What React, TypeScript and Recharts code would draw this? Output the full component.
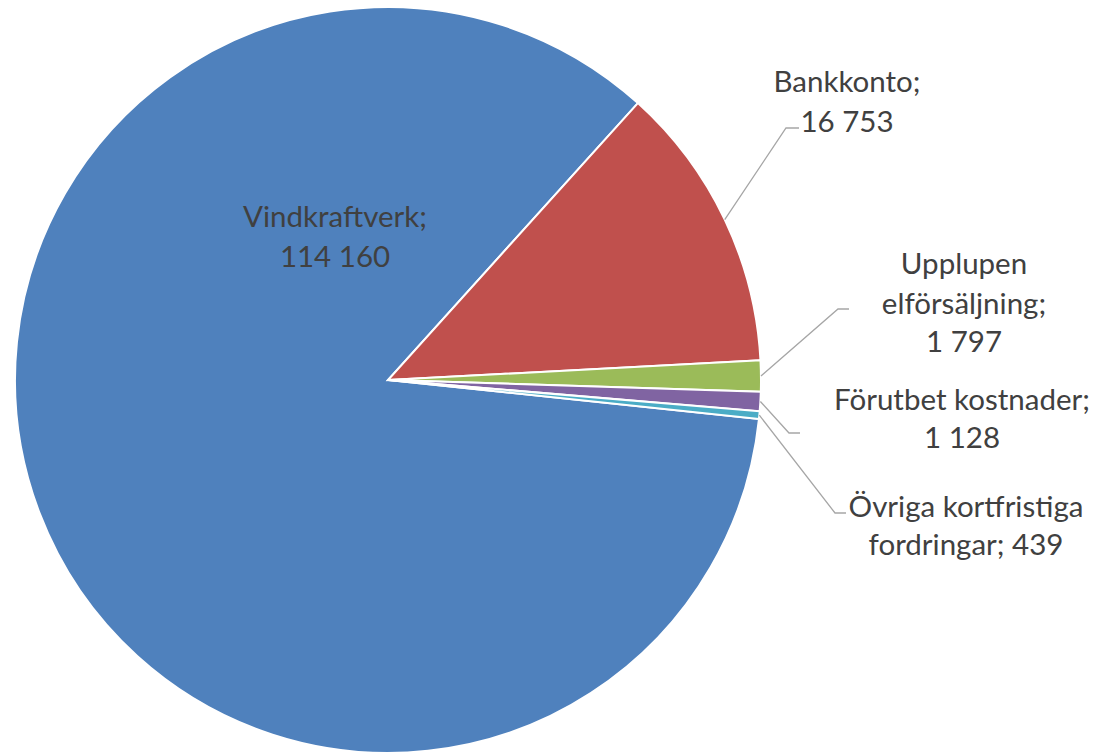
import React from 'react';
import { PieChart, Pie, Cell } from 'recharts';

const categories = ['Vindkraftverk', 'Bankkonto', 'Upplupen elförsäljning', 'Förutbet kostnader', 'Övriga kortfristiga fordringar'];
const values = [114160, 16753, 1797, 1128, 439];
const colors = ['#4F81BD', '#C0504D', '#9BBB59', '#8064A2', '#4BACC6'];

const data = categories.map((name, i) => ({ name, value: values[i] }));

const fmt = (v: number) => v.toString().replace(/\B(?=(\d{3})+(?!\d))/g, ' ');

// label layout relative to pie centre
const labelLayout = [
  { lines: (n: string, v: string) => [n + ';', v], tx: -53, ty: [-165, -125], leader: null },
  { lines: (n: string, v: string) => [n + ';', v], tx: 459, ty: [-300, -260], leader: [[398, -252], [411, -252]] },
  { lines: (n: string, v: string) => ['Upplupen', 'elförsäljning;', v], tx: 576, ty: [-118, -78, -40], leader: [[450, -71], [461, -71]] },
  { lines: (n: string, v: string) => [n + ';', v], tx: 574, ty: [18, 56], leader: [[401, 53], [412, 53]] },
  { lines: (n: string, v: string) => ['Övriga kortfristiga', 'fordringar; ' + v], tx: 578, ty: [125, 163], leader: [[447, 133], [458, 133]] },
];

const RAD = Math.PI / 180;

const renderLabel = (props: any) => {
  const { cx, cy, midAngle, outerRadius, index, name, value } = props;
  const L = labelLayout[index];
  const lines = L.lines(name, fmt(value));
  let leader = null;
  if (L.leader) {
    const sx = cx + outerRadius * Math.cos(-midAngle * RAD);
    const sy = cy + outerRadius * Math.sin(-midAngle * RAD);
    const pts = [[sx, sy], ...L.leader.map(([x, y]) => [cx + x, cy + y])];
    leader = <polyline points={pts.map((p) => p.join(',')).join(' ')} fill="none" stroke="#A6A6A6" strokeWidth={1.3} />;
  }
  return (
    <g key={`lbl-${index}`}>
      {leader}
      {lines.map((t: string, i: number) => (
        <text key={i} x={cx + L.tx} y={cy + L.ty[i]} textAnchor="middle" dominantBaseline="central"
          fill="#404040" fontSize={29.5} fontFamily="Lato, 'Open Sans', sans-serif">{t}</text>
      ))}
    </g>
  );
};

export default function App() {
  return (
    <div style={{ position: 'absolute', left: 0, top: 0, width: 1099, height: 753, background: '#fff' }}>
      <PieChart width={1099} height={753} margin={{ top: 0, right: 0, bottom: 0, left: 0 }}>
        <Pie data={data} dataKey="value" nameKey="name" cx={388} cy={380} outerRadius={373}
          startAngle={-6} endAngle={-366} stroke="#FFFFFF" strokeWidth={2}
          label={renderLabel} labelLine={false} isAnimationActive={false}>
          {data.map((d, i) => <Cell key={d.name} fill={colors[i]} />)}
        </Pie>
      </PieChart>
    </div>
  );
}
